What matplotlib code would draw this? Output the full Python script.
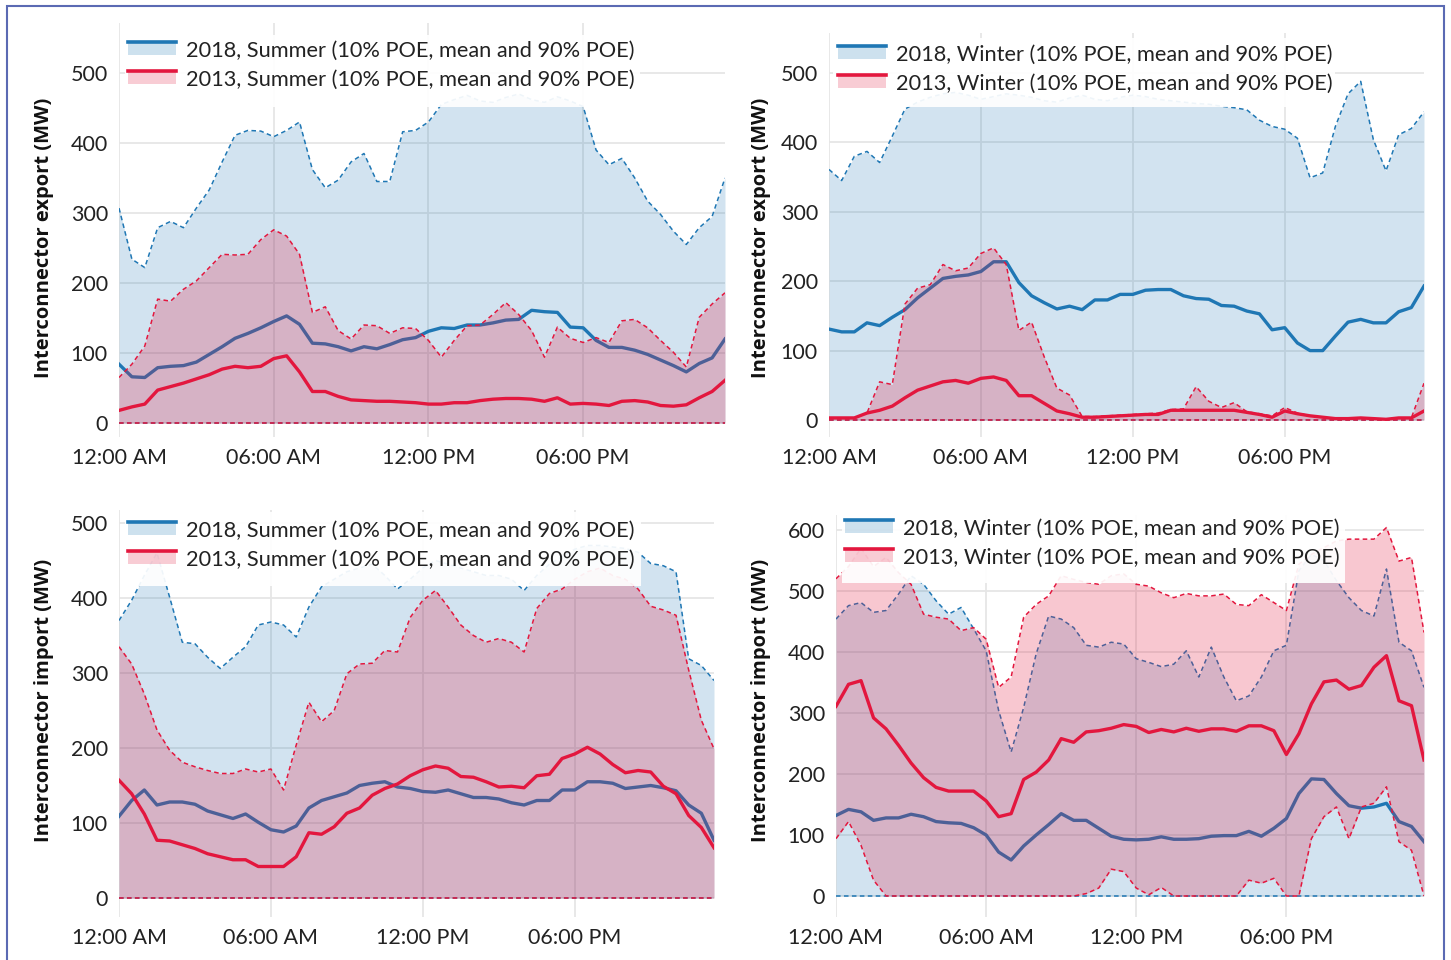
import numpy as np
import matplotlib
matplotlib.use("Agg")
import matplotlib.pyplot as plt
from matplotlib.lines import Line2D
from matplotlib.patches import Rectangle
from matplotlib.legend_handler import HandlerBase

# half-hourly profiles, 00:00 .. 23:30 (MW)
hours = np.arange(48) * 0.5
tick_hours = [0, 6, 12, 18]
tick_labels = ["12:00 AM", "06:00 AM", "12:00 PM", "06:00 PM"]

# export, summer
exp_sum_2018_p10 = [307, 234, 222, 279, 288, 279, 307, 333, 373, 411, 418, 417, 409, 418, 430, 362,
                    336, 347, 373, 385, 345, 345, 416, 418, 430, 455, 462, 468, 460, 458, 465, 470,
                    462, 458, 466, 460, 452, 390, 369, 378, 350, 317, 298, 274, 255, 279, 295, 350]
exp_sum_2018_mean = [84, 66, 65, 79, 81, 82, 87, 98, 109, 121, 128, 136, 145, 153, 141, 114,
                     113, 109, 103, 109, 106, 112, 119, 122, 131, 136, 135, 140, 140, 143, 147, 148,
                     161, 159, 158, 137, 136, 118, 108, 108, 104, 98, 90, 82, 73, 85, 93, 120]
exp_sum_2018_p90 = [0] * 48
exp_sum_2013_p10 = [65, 84, 110, 177, 174, 191, 203, 222, 241, 240, 241, 262, 276, 267, 241, 158,
                    166, 132, 120, 140, 139, 128, 136, 135, 118, 94, 118, 139, 140, 155, 172, 155,
                    132, 94, 137, 121, 115, 122, 115, 146, 148, 136, 118, 101, 80, 151, 170, 186]
exp_sum_2013_mean = [18, 23, 27, 47, 52, 57, 63, 69, 77, 81, 79, 81, 92, 96, 73, 45,
                     45, 38, 33, 32, 31, 31, 30, 29, 27, 27, 29, 29, 32, 34, 35, 35,
                     34, 31, 36, 27, 28, 27, 25, 31, 32, 30, 25, 24, 26, 36, 45, 61]
exp_sum_2013_p90 = [0] * 48

# export, winter
exp_win_2018_p10 = [361, 345, 380, 387, 371, 409, 448, 458, 465, 470, 472, 468, 462, 466, 470, 468,
                    465, 460, 458, 464, 468, 462, 460, 465, 468, 466, 462, 460, 458, 456, 455, 452,
                    450, 447, 432, 423, 419, 406, 349, 356, 423, 470, 488, 404, 359, 411, 420, 444]
exp_win_2018_mean = [131, 127, 127, 140, 136, 148, 159, 176, 190, 204, 207, 209, 214, 228, 228, 198,
                     179, 169, 160, 164, 159, 173, 173, 181, 181, 187, 188, 188, 179, 175, 174, 165,
                     164, 157, 153, 130, 133, 111, 100, 100, 121, 141, 145, 140, 140, 156, 162, 193]
exp_win_2018_p90 = [0] * 48
exp_win_2013_p10 = [3, 3, 3, 10, 55, 51, 167, 190, 195, 224, 215, 219, 240, 248, 224, 129,
                    141, 91, 46, 36, 5, 5, 6, 7, 8, 9, 10, 15, 16, 48, 27, 18,
                    25, 12, 9, 6, 18, 10, 6, 4, 2, 2, 3, 2, 1, 3, 3, 53]
exp_win_2013_mean = [3, 3, 3, 10, 14, 20, 32, 43, 49, 55, 57, 53, 60, 62, 57, 35,
                     35, 24, 13, 9, 4, 4, 5, 6, 7, 8, 8, 14, 14, 14, 14, 14,
                     14, 11, 8, 4, 13, 9, 6, 4, 2, 2, 3, 2, 1, 3, 3, 13]
exp_win_2013_p90 = [0] * 48

# import, summer
imp_sum_2018_p10 = [370, 397, 430, 460, 401, 341, 339, 321, 306, 321, 335, 364, 368, 364, 348, 388,
                    415, 425, 435, 440, 445, 430, 412, 425, 440, 450, 445, 440, 435, 430, 430, 425,
                    410, 430, 445, 455, 465, 470, 470, 468, 466, 461, 446, 443, 435, 319, 310, 290]
imp_sum_2018_mean = [109, 130, 144, 124, 128, 128, 125, 116, 111, 106, 112, 101, 91, 88, 96, 120,
                     130, 135, 140, 150, 153, 155, 148, 146, 142, 141, 144, 139, 134, 134, 132, 127,
                     124, 130, 130, 144, 144, 155, 155, 153, 146, 148, 150, 147, 143, 124, 113, 77]
imp_sum_2018_p90 = [0] * 48
imp_sum_2013_p10 = [335, 312, 272, 224, 197, 181, 175, 170, 166, 166, 172, 168, 172, 144, 204, 261,
                    235, 250, 299, 312, 313, 330, 328, 374, 397, 410, 388, 364, 350, 341, 346, 341,
                    328, 386, 406, 412, 425, 435, 440, 430, 425, 412, 389, 384, 377, 304, 237, 199]
imp_sum_2013_mean = [157, 139, 112, 77, 76, 71, 66, 59, 55, 51, 51, 42, 42, 42, 55, 87,
                     85, 95, 113, 120, 137, 146, 152, 163, 171, 176, 173, 162, 161, 155, 148, 149,
                     147, 163, 165, 186, 192, 201, 192, 178, 167, 170, 168, 149, 139, 110, 94, 67]
imp_sum_2013_p90 = [0] * 48

# import, winter
imp_win_2018_p10 = [454, 476, 481, 465, 468, 495, 525, 511, 484, 462, 473, 438, 402, 304, 236, 309,
                    397, 459, 454, 440, 411, 408, 416, 413, 389, 383, 376, 380, 402, 359, 408, 359,
                    320, 328, 359, 402, 411, 533, 560, 550, 517, 489, 468, 459, 536, 416, 402, 342]
imp_win_2018_mean = [132, 142, 138, 124, 128, 128, 134, 130, 122, 120, 119, 112, 100, 72, 59, 82,
                     100, 117, 135, 124, 124, 111, 98, 93, 92, 93, 97, 93, 93, 94, 98, 99,
                     99, 106, 98, 111, 127, 168, 192, 191, 168, 148, 144, 146, 152, 122, 114, 89]
imp_win_2018_p90 = [0] * 48
imp_win_2013_p10 = [520, 540, 570, 540, 555, 530, 511, 462, 457, 454, 435, 440, 421, 342, 359, 457,
                    478, 492, 525, 519, 514, 511, 525, 528, 511, 508, 497, 489, 496, 492, 492, 495,
                    478, 476, 494, 481, 468, 544, 560, 571, 582, 585, 585, 585, 604, 549, 555, 432]
imp_win_2013_mean = [311, 347, 353, 292, 274, 247, 218, 194, 178, 172, 172, 172, 156, 130, 135, 191,
                     203, 223, 258, 252, 269, 271, 275, 281, 278, 268, 273, 269, 275, 270, 274, 274,
                     270, 279, 279, 271, 232, 266, 315, 351, 354, 339, 345, 375, 394, 320, 312, 223]
imp_win_2013_p90 = [94, 122, 83, 26, 0, 0, 0, 0, 0, 0, 0, 0, 0, 0, 0, 0,
                    0, 0, 0, 0, 4, 13, 44, 40, 13, 2, 14, 0, 0, 0, 0, 0,
                    0, 26, 21, 29, 0, 0, 94, 130, 146, 94, 146, 152, 179, 89, 75, 0]

BLUE = "#1f77b4"
RED = "#e3173e"
W, H = 1451, 960

TICK_FONT = ["Lato", "DejaVu Sans"]
LABEL_FONT = ["Open Sans", "DejaVu Sans"]


class BandHandler(HandlerBase):
    # legend key: solid line with a light band under it
    def create_artists(self, legend, orig_handle, xdescent, ydescent, width, height, fontsize, trans):
        c = orig_handle.get_color()
        top = -ydescent + height
        rect = Rectangle((-xdescent, top - 0.85 * height), width, 0.85 * height,
                         facecolor=c, alpha=0.22, lw=0, transform=trans)
        line = Line2D([-xdescent, -xdescent + width], [top, top], color=c, lw=2.6, transform=trans)
        return [rect, line]


fig = plt.figure(figsize=(W / 100, H / 100), dpi=100)

# outer frame
fig.patches.append(Rectangle((7 / W, -0.05), (1444 - 7) / W, 1 - 6 / H + 0.05,
                             transform=fig.transFigure, fill=False,
                             edgecolor="#5b6ab3", lw=1.5))


def draw_panel(box, y0px, px_per_100, yticks, ylabel, season,
               b_hi, b_mean, b_lo, r_hi, r_mean, r_lo, leg_box, leg_anchor, lab_pos):
    x0, top, x1, bot = box
    ax = fig.add_axes([x0 / W, 1 - bot / H, (x1 - x0) / W, (bot - top) / H])
    scale = px_per_100 / 100.0
    ax.set_ylim(-(bot - y0px) / scale, (y0px - top) / scale)
    ax.set_xlim(0, 23.5)

    ax.fill_between(hours, b_lo, b_hi, color=BLUE, alpha=0.2, lw=0, zorder=2)
    ax.plot(hours, b_hi, color=BLUE, lw=1.1, dashes=(3, 2.2), zorder=2.1)
    ax.plot(hours, b_lo, color=BLUE, lw=1.1, dashes=(3, 2.2), zorder=2.1)
    l18, = ax.plot(hours, b_mean, color=BLUE, lw=2.4, zorder=2.2)

    ax.fill_between(hours, r_lo, r_hi, color=RED, alpha=0.24, lw=0, zorder=3)
    ax.plot(hours, r_hi, color=RED, lw=1.1, dashes=(3, 2.2), zorder=3.1)
    ax.plot(hours, r_lo, color=RED, lw=1.1, dashes=(3, 2.2), zorder=3.1)
    l13, = ax.plot(hours, r_mean, color=RED, lw=2.4, zorder=3.2)

    ax.set_xticks(tick_hours)
    ax.set_xticklabels(tick_labels, family=TICK_FONT, fontsize=15.5, color="#222222")
    ax.set_yticks(yticks)
    ax.set_yticklabels([str(v) for v in yticks], family=TICK_FONT, fontsize=15.5, color="#222222")
    ax.tick_params(length=0, pad=8)
    ax.grid(True, color="#e6e6e6", lw=1.3)
    ax.set_axisbelow(True)
    for s in ax.spines.values():
        s.set_visible(False)

    # y label, placed by its centre in figure pixels
    lx, ly = lab_pos
    ax.set_ylabel(ylabel, family=LABEL_FONT, fontsize=14.5, fontweight="bold", color="#111111")
    ax.yaxis.set_label_coords((lx + 11 - x0) / (x1 - x0), (bot - ly) / (bot - top))

    # white panel behind the legend
    bx0, by0, bx1, by1 = leg_box
    ax.add_patch(Rectangle(((bx0 - x0) / (x1 - x0), (bot - by1) / (bot - top)),
                           (bx1 - bx0) / (x1 - x0), (by1 - by0) / (bot - top),
                           transform=ax.transAxes, facecolor="white", alpha=0.93,
                           lw=0, zorder=8))
    ax_, ay_ = leg_anchor
    leg = ax.legend([l18, l13],
                    [f"2018, {season} (10% POE, mean and 90% POE)",
                     f"2013, {season} (10% POE, mean and 90% POE)"],
                    loc="upper left",
                    bbox_to_anchor=((ax_ - x0) / (x1 - x0), (bot - ay_) / (bot - top)),
                    frameon=False, borderpad=0, borderaxespad=0,
                    handler_map={Line2D: BandHandler()},
                    handlelength=2.2, handletextpad=0.45, labelspacing=0.42,
                    prop={"family": TICK_FONT, "size": 15.7})
    for t in leg.get_texts():
        t.set_color("#222222")
    leg.set_zorder(10)
    return ax


draw_panel((119, 23, 725, 437), 423, 70, [0, 100, 200, 300, 400, 500],
           "Interconnector export (MW)", "Summer",
           exp_sum_2018_p10, exp_sum_2018_mean, exp_sum_2018_p90,
           exp_sum_2013_p10, exp_sum_2013_mean, exp_sum_2013_p90,
           (125, 35, 640, 107), (128, 41), (43, 238))

draw_panel((829, 33, 1424, 437), 420, 69.4, [0, 100, 200, 300, 400, 500],
           "Interconnector export (MW)", "Winter",
           exp_win_2018_p10, exp_win_2018_mean, exp_win_2018_p90,
           exp_win_2013_p10, exp_win_2013_mean, exp_win_2013_p90,
           (833, 38, 1335, 107), (838, 45), (760, 238))

draw_panel((119, 510, 714, 917), 898, 75, [0, 100, 200, 300, 400, 500],
           "Interconnector import (MW)", "Summer",
           imp_sum_2018_p10, imp_sum_2018_mean, imp_sum_2018_p90,
           imp_sum_2013_p10, imp_sum_2013_mean, imp_sum_2013_p90,
           (125, 512, 641, 586), (128, 521), (43, 700))

draw_panel((836, 515, 1424, 917), 896, 61, [0, 100, 200, 300, 400, 500, 600],
           "Interconnector import (MW)", "Winter",
           imp_win_2018_p10, imp_win_2018_mean, imp_win_2018_p90,
           imp_win_2013_p10, imp_win_2013_mean, imp_win_2013_p90,
           (842, 512, 1345, 583), (845, 519), (760, 700))

fig.savefig("out.png", dpi=100, facecolor="white")
